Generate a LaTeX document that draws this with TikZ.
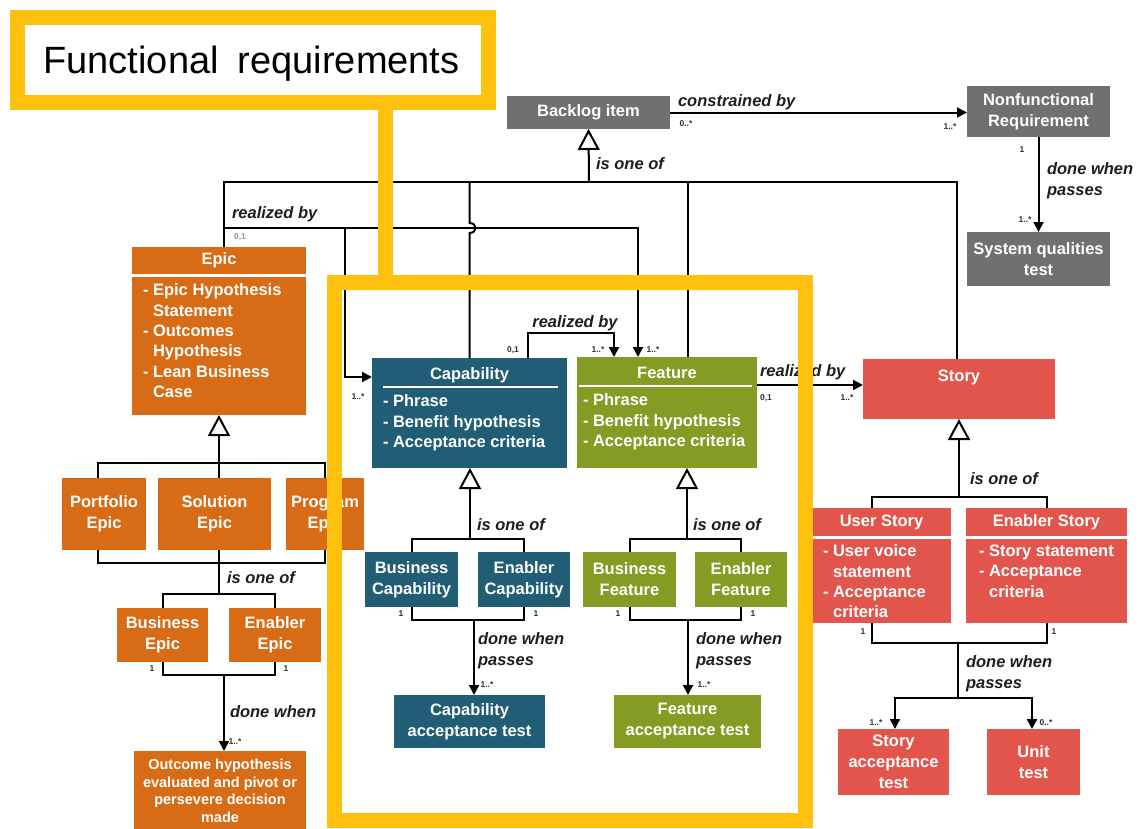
\documentclass[tikz,border=0pt]{standalone}
\usepackage{fontspec}
\setmainfont{Liberation Sans}
\usetikzlibrary{arrows.meta}

\definecolor{epicorange}{RGB}{216,107,22}
\definecolor{capteal}{RGB}{33,94,118}
\definecolor{featgreen}{RGB}{132,156,36}
\definecolor{storyred}{RGB}{226,85,76}
\definecolor{nfrgray}{RGB}{112,112,112}
\definecolor{frameyellow}{RGB}{255,192,14}
\definecolor{labelink}{RGB}{30,30,30}
\definecolor{multink}{RGB}{50,50,50}
\definecolor{multlight}{RGB}{150,150,150}

\newcommand{\bxfont}{\bfseries\fontsize{16.5}{21}\selectfont}
\newcommand{\lsfont}{\bfseries\fontsize{16.5}{20.3}\selectfont}
\newcommand{\smbxfont}{\bfseries\fontsize{14.5}{17.5}\selectfont}
\newcommand{\lbfont}{\bfseries\itshape\fontsize{16.5}{21}\selectfont}
\newcommand{\mlfont}{\bfseries\fontsize{8.5}{10}\selectfont}
\newcommand{\ttlfont}{\fontsize{38}{44}\selectfont}

\tikzset{
  every node/.style={inner sep=0pt, outer sep=0pt},
  box/.style={rectangle, text=white, align=center, font=\bxfont},
  epicbox/.style={box, fill=epicorange},
  capbox/.style={box, fill=capteal},
  featbox/.style={box, fill=featgreen},
  storybox/.style={box, fill=storyred},
  graybox/.style={box, fill=nfrgray},
  boxtitle/.style={text=white, font=\bxfont, anchor=base},
  listtext/.style={text=white, align=left, anchor=north west, font=\lsfont},
  lbl/.style={font=\lbfont, text=labelink, anchor=base west},
  mult/.style={font=\mlfont, text=multink},
  conn/.style={draw=black, line width=2pt},
  arr/.style={conn, -{Triangle[length=10pt,width=10pt]}},
  gen/.style={conn, -{Triangle[length=21pt,width=22pt,fill=white]}},
  yframe/.style={draw=frameyellow, line width=15pt},
}

\begin{document}
\begin{tikzpicture}[x=1pt, y=-1pt]
\useasboundingbox (0,0) rectangle (1138,828);
\clip (0,0) rectangle (1138,828);
\fill[white] (0,0) rectangle (1138,828);

% ---------- nonfunctional side (gray) ----------
\node[graybox, minimum width=163pt, minimum height=33pt] (backlog) at (588.5,112.5) {Backlog item};
\node[graybox, minimum width=143pt, minimum height=51pt] (nfr) at (1038.5,111.5) {Nonfunctional\\Requirement};
\node[graybox, minimum width=143pt, minimum height=54pt] (sysq) at (1038.5,259) {System qualities\\test};

% ---------- epics ----------
\node[epicbox, minimum width=174pt, minimum height=27pt] (epichead) at (219,260.5) {Epic};
\node[epicbox, minimum width=174pt, minimum height=138pt] (epicbody) at (219,346) {};
\node[listtext] (epiclist) at (143,284) {- Epic Hypothesis\\\phantom{- }Statement\\- Outcomes\\\phantom{- }Hypothesis\\- Lean Business\\\phantom{- }Case};
\node[epicbox, minimum width=84pt, minimum height=72pt] (portfolio) at (104,514) {Portfolio\\Epic};
\node[epicbox, minimum width=113pt, minimum height=72pt] (solution) at (214.5,514) {Solution\\Epic};
\node[epicbox, minimum width=78pt, minimum height=72pt] (program) at (325,514) {Program\\Epic};
\node[epicbox, minimum width=91pt, minimum height=54pt] (bizepic) at (162.5,635) {Business\\Epic};
\node[epicbox, minimum width=92pt, minimum height=54pt] (enepic) at (275,635) {Enabler\\Epic};
\node[epicbox, minimum width=172pt, minimum height=80pt, font=\smbxfont] (outcome) at (220,791) {Outcome hypothesis\\evaluated and pivot or\\persevere decision\\made};

% ---------- capabilities ----------
\node[capbox, minimum width=195pt, minimum height=110pt] (cap) at (469.5,413) {};
\node[boxtitle] (captitle) at (469.5,379) {Capability};
\draw[white, line width=2pt] (383,387) -- (558,387);
\node[listtext] (caplist) at (383,395) {- Phrase\\- Benefit hypothesis\\- Acceptance criteria};
\node[capbox, minimum width=93pt, minimum height=55pt] (bizcap) at (411.5,579.5) {Business\\Capability};
\node[capbox, minimum width=92pt, minimum height=55pt] (encap) at (524,579.5) {Enabler\\Capability};
\node[capbox, minimum width=151pt, minimum height=53pt] (captest) at (469.5,721.5) {Capability\\acceptance test};

% ---------- features ----------
\node[featbox, minimum width=180pt, minimum height=111pt] (feat) at (667,412.5) {};
\node[boxtitle] (feattitle) at (667,378) {Feature};
\draw[white, line width=2pt] (579,386) -- (752,386);
\node[listtext] (featlist) at (583,394) {- Phrase\\- Benefit hypothesis\\- Acceptance criteria};
\node[featbox, minimum width=93pt, minimum height=55pt] (bizfeat) at (629.5,579.5) {Business\\Feature};
\node[featbox, minimum width=92pt, minimum height=55pt] (enfeat) at (741,579.5) {Enabler\\Feature};
\node[featbox, minimum width=147pt, minimum height=53pt] (feattest) at (687.5,721.5) {Feature\\acceptance test};

% ---------- stories ----------
\node[storybox, minimum width=192pt, minimum height=60pt] (story) at (959,389) {};
\node[boxtitle] (storytitle) at (959,381) {Story};
\node[storybox, minimum width=139pt, minimum height=28pt] (ushead) at (881.5,522) {User Story};
\node[storybox, minimum width=139pt, minimum height=84pt] (usbody) at (881.5,581) {};
\node[listtext] (uslist) at (823,545) {- User voice\\\phantom{- }statement\\- Acceptance\\\phantom{- }criteria};
\node[storybox, minimum width=161pt, minimum height=28pt] (enhead) at (1046.5,522) {Enabler Story};
\node[storybox, minimum width=161pt, minimum height=84pt] (enbody) at (1046.5,581) {};
\node[listtext] (enlist) at (979,545) {- Story statement\\- Acceptance\\\phantom{- }criteria};
\node[storybox, minimum width=111pt, minimum height=66pt] (storytest) at (893.5,762) {Story\\acceptance\\test};
\node[storybox, minimum width=93pt, minimum height=66pt] (unittest) at (1033.5,762) {Unit\\test};

% ---------- junction points ----------
\coordinate (isa) at (589,182);
\coordinate (busW) at (224,182);
\coordinate (busE) at (957,182);
\coordinate (featV) at (688,182);
\coordinate (jmpA) at (469.5,223);
\coordinate (jmpB) at (469.5,233);
\coordinate (rb) at (224,228);
\coordinate (rbCap) at (345,228);
\coordinate (featIn) at (638,357);
\coordinate (capIn) at (372,377);
\coordinate (capOut) at (528,358);
\coordinate (crbTop) at (528,333);
\coordinate (featIn2) at (614,357);
\coordinate (fsy) at (0,385);
\coordinate (epbus) at (219,463);
\coordinate (epbus2) at (219,563);
\coordinate (epbus3) at (219,594);
\coordinate (epdn) at (224,675);
\coordinate (capbus) at (470,539);
\coordinate (capdn) at (474,620);
\coordinate (featbus) at (687,539);
\coordinate (featdn) at (688,620);
\coordinate (stbus) at (959,497);
\coordinate (stdn) at (958,643);
\coordinate (stsplit) at (958,698);

% ---------- top level ----------
\draw[arr] (backlog.east) -- (nfr.west |- backlog.east);
\draw[arr] (nfr.south) -- (sysq.north);
\draw[gen] (isa) -- (backlog.south);
\draw[conn] (epichead.north -| busW) |- (busE) -- (story.north -| busE);
\draw[conn] (cap.north |- busW) -- (jmpA) .. controls +(8,0) and +(8,0) .. (jmpB) -- (cap.north);
\draw[conn] (featV) -- (featV |- feat.north);

% realized by: epic -> capability / feature
\draw[arr] (rb) -| (featIn);
\draw[arr] (rbCap) |- (capIn);
% realized by: capability -> feature
\draw[arr] (capOut) -- (crbTop) -| (featIn2);
% realized by: feature -> story
\draw[arr] (feat.east |- fsy) -- (story.west |- fsy);

% ---------- epic tree ----------
\draw[gen] (epbus) -- (epicbody.south);
\draw[conn] ([xshift=-6pt]portfolio.north) |- (epbus) -| (program.north);
\draw[conn] (epbus) -- (solution.north -| epbus);
\draw[conn] ([xshift=-6pt]portfolio.south) |- (epbus2) -| (program.south);
\draw[conn] (solution.south -| epbus2) -- (epbus3);
\draw[conn] (bizepic.north) |- (epbus3) -| (enepic.north);
\draw[conn] (bizepic.south) |- (epdn) -| (enepic.south);
\draw[arr] (epdn) -- (epdn |- outcome.north);

% ---------- capability tree ----------
\draw[gen] (capbus) -- (capbus |- cap.south);
\draw[conn] (bizcap.north) |- (capbus) -| (encap.north);
\draw[conn] (bizcap.south) |- (capdn) -| (encap.south);
\draw[arr] (capdn) -- (capdn |- captest.north);

% ---------- feature tree ----------
\draw[gen] (featbus) -- (featbus |- feat.south);
\draw[conn] (bizfeat.north) |- (featbus) -| (enfeat.north);
\draw[conn] (bizfeat.south) |- (featdn) -| (enfeat.south);
\draw[arr] (featdn) -- (featdn |- feattest.north);

% ---------- story tree ----------
\draw[gen] (stbus) -- (story.south);
\draw[conn] ([xshift=-9.5pt]ushead.north) |- (stbus) -| (enhead.north);
\draw[conn] ([xshift=-9.5pt]usbody.south) |- (stdn) -| (enbody.south);
\draw[conn] (stdn) -- (stsplit);
\draw[arr] (stsplit) -| ([xshift=1.5pt]storytest.north);
\draw[arr] (stsplit) -| ([xshift=-1.5pt]unittest.north);

% ---------- association labels ----------
\node[lbl] (lconstr) at (678,106) {constrained by};
\node[lbl] (lisa) at (596,169) {is one of};
\node[lbl] (lnfr1) at (1047,174) {done when};
\node[lbl] (lnfr2) at (1047,195) {passes};
\node[lbl] (lrbepic) at (232,218) {realized by};
\node[lbl, anchor=base] (lrbcap) at (575,327) {realized by};
\node[lbl] (lrbfeat) at (760,376) {realized by};
\node[lbl] (lisaep) at (227,583) {is one of};
\node[lbl] (ldoneep) at (230,717) {done when};
\node[lbl] (lisacap) at (477,530) {is one of};
\node[lbl] (ldcap1) at (478,644) {done when};
\node[lbl] (ldcap2) at (478,665) {passes};
\node[lbl] (lisaft) at (693,530) {is one of};
\node[lbl] (ldft1) at (696,644) {done when};
\node[lbl] (ldft2) at (696,665) {passes};
\node[lbl] (lisast) at (970,484) {is one of};
\node[lbl] (ldst1) at (966,667) {done when};
\node[lbl] (ldst2) at (966,688) {passes};

% ---------- multiplicities ----------
\node[mult] (m1) at (686,124) {0..*};
\node[mult] (m2) at (950,127) {1..*};
\node[mult] (m3) at (1022,150) {1};
\node[mult] (m4) at (1025,220) {1..*};
\node[mult, text=multlight] (m5) at (240,237) {0,1};
\node[mult] (m6) at (358,397) {1..*};
\node[mult] (m7) at (513,350) {0,1};
\node[mult] (m8) at (598,350) {1..*};
\node[mult] (m9) at (653,350) {1..*};
\node[mult] (m10) at (766,398) {0,1};
\node[mult] (m11) at (847,398) {1..*};
\node[mult] (m12) at (152,669) {1};
\node[mult] (m13) at (286,669) {1};
\node[mult] (m14) at (235,742) {1..*};
\node[mult] (m15) at (401,614) {1};
\node[mult] (m16) at (536,614) {1};
\node[mult] (m17) at (487,685) {1..*};
\node[mult] (m18) at (618,614) {1};
\node[mult] (m19) at (753,614) {1};
\node[mult] (m20) at (704,685) {1..*};
\node[mult] (m21) at (863,632) {1};
\node[mult] (m22) at (1054,632) {1};
\node[mult] (m23) at (876,723) {1..*};
\node[mult] (m24) at (1046,723) {0..*};

% ---------- highlight frames ----------
\draw[yframe] (17,17) rectangle (488,102);
\node[font=\ttlfont, anchor=base] (title) at (251.5,73) {Functional\hspace{0.5em}requirements};
\draw[yframe] (385,102) -- (385,282);
\draw[yframe] (334,282) rectangle (805,820);
\end{tikzpicture}
\end{document}
